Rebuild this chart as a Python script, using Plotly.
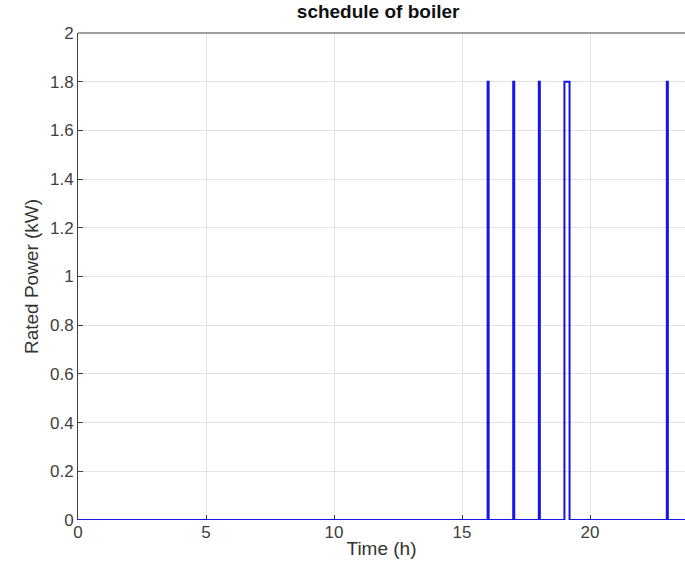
import plotly.graph_objects as go

# Step schedule of boiler: time (h) of each change and the power (kW) held from that time on
time_h = [0, 16, 16.04, 17, 17.04, 18, 18.04, 19, 19.2, 23, 23.04, 24]
power_kw = [0, 1.8, 0, 1.8, 0, 1.8, 0, 1.8, 0, 1.8, 0, 0]

x_ticks = [0, 5, 10, 15, 20]
y_ticks = [0, 0.2, 0.4, 0.6, 0.8, 1, 1.2, 1.4, 1.6, 1.8, 2]
y_tick_text = ["0", "0.2", "0.4", "0.6", "0.8", "1", "1.2", "1.4", "1.6", "1.8", "2"]

FONT = "Liberation Sans, Arial, sans-serif"

fig = go.Figure()
fig.add_trace(go.Scatter(
    x=time_h, y=power_kw, mode="lines", line_shape="hv", cliponaxis=False,
    line=dict(color="#1414e6", width=2), showlegend=False,
))

axis_font = dict(family=FONT, size=17, color="#404040")
title_font = dict(family=FONT, size=19, color="#333333")
fig.update_layout(
    width=685, height=585,
    margin=dict(l=78, r=0, t=33, b=65),
    paper_bgcolor="white", plot_bgcolor="white",
    title=dict(text="<b>schedule of boiler</b>", x=0.552, xanchor="center", y=0.992, yanchor="top",
               font=dict(family=FONT, size=19, color="#111111")),
    xaxis=dict(range=[0, 23.71], tickvals=x_ticks, ticks="inside", ticklen=5,
               tickcolor="#404040", showgrid=True, gridcolor="#e3e3e3", gridwidth=1,
               showline=False, zeroline=False, tickfont=axis_font, layer="below traces",
               title=dict(text="Time (h)", font=title_font, standoff=0)),
    yaxis=dict(range=[0, 2], tickvals=y_ticks, ticktext=y_tick_text, ticks="inside", ticklen=5,
               tickcolor="#404040", showgrid=True, gridcolor="#e3e3e3", gridwidth=1,
               showline=True, linecolor="#404040", linewidth=1, mirror=False,
               zeroline=False, tickfont=axis_font, layer="below traces",
               title=dict(text="Rated Power (kW)", font=title_font, standoff=6)),
    shapes=[dict(type="line", xref="paper", yref="paper", x0=0, x1=1, y0=1, y1=1,
                 line=dict(color="#404040", width=1), layer="above")],
)

fig.write_html("out.html")
